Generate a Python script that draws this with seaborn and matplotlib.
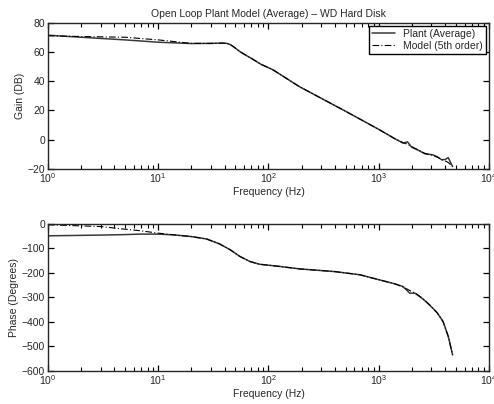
import numpy as np
import pandas as pd
import matplotlib
matplotlib.use("Agg")
import matplotlib.pyplot as plt
from matplotlib.ticker import NullFormatter
import seaborn as sns

# values (frequency in Hz)
gain_freq = [1, 2, 5, 10, 20, 30, 38, 42, 45, 48, 55, 63, 72, 85, 110, 190, 300, 500,
             676, 1000, 1400, 1660, 1820, 1990, 2300, 2620, 3100, 3400, 3720, 4000,
             4260, 4670]
plant_gain = [71.4, 70.0, 68.2, 66.6, 65.7, 65.8, 66.0, 65.8, 65.0, 63.6, 60.2, 57.5,
              55.0, 51.6, 47.7, 36.3, 28.3, 19.4, 14.0, 7.0, 0.6, -2.4, -1.5, -5.2,
              -7.4, -9.7, -10.4, -11.8, -13.8, -13.6, -12.3, -18.4]
model_gain = [71.0, 70.5, 70.0, 68.2, 65.8, 65.8, 66.0, 65.8, 65.0, 63.6, 60.2, 57.5,
              55.0, 51.6, 47.7, 36.3, 28.3, 19.4, 14.0, 7.0, 0.6, -2.0, -3.2, -4.8,
              -7.2, -9.4, -10.8, -12.0, -13.6, -14.6, -15.6, -18.4]

phase_freq = [1, 3, 5, 6.8, 10, 13.7, 20, 27.5, 36, 45, 55, 68, 83, 127, 192, 400, 676,
              1020, 1400, 1660, 1910, 2130, 2500, 2890, 3400, 3830, 4270, 4670]
plant_phase = [-49, -46, -44, -42, -42, -45, -52, -62, -82, -106, -133, -154, -165, -174,
               -184, -195, -208, -229, -245, -256, -283, -283, -306, -331, -364, -399,
               -460, -535]
model_phase = [-4, -11, -22, -28, -38, -45, -52, -62, -82, -106, -133, -154, -165, -174,
               -184, -195, -208, -229, -245, -258, -272, -282, -304, -331, -364, -399,
               -460, -535]

gain_df = pd.concat([
    pd.DataFrame({"freq": gain_freq, "value": plant_gain, "curve": "Plant (Average)"}),
    pd.DataFrame({"freq": gain_freq, "value": model_gain, "curve": "Model (5th order)"}),
])
phase_df = pd.concat([
    pd.DataFrame({"freq": phase_freq, "value": plant_phase, "curve": "Plant (Average)"}),
    pd.DataFrame({"freq": phase_freq, "value": model_phase, "curve": "Model (5th order)"}),
])

sns.set_style("ticks")
plt.rcParams["font.family"] = ["Liberation Sans", "DejaVu Sans"]
plt.rcParams["font.size"] = 7
plt.rcParams["axes.unicode_minus"] = True

fig = plt.figure(figsize=(4.94, 4.04), dpi=100)
ax1 = fig.add_axes([0.097, 0.582, 0.893, 0.362])
ax2 = fig.add_axes([0.097, 0.082, 0.893, 0.364])

palette = {"Plant (Average)": "#3a3a3a", "Model (5th order)": "black"}
styles = {"Plant (Average)": "", "Model (5th order)": (6, 2, 1, 2)}
sizes = {"Plant (Average)": 1.1, "Model (5th order)": 0.8}

decades = 10.0 ** np.arange(0, 5)
minor_pos = (decades[:-1, None] * np.arange(2, 10)[None, :]).ravel()

for ax, df in [(ax1, gain_df), (ax2, phase_df)]:
    sns.lineplot(data=df, x="freq", y="value", hue="curve", style="curve",
                 size="curve", palette=palette, dashes=styles, sizes=sizes,
                 sort=False, ax=ax, legend=(ax is ax1))
    ax.set_xscale("log")
    ax.set_xticks(decades)
    ax.set_xticks(minor_pos, minor=True)
    ax.xaxis.set_minor_formatter(NullFormatter())
    ax.set_xlim(1, 1e4)
    ax.set_xlabel("Frequency (Hz)", fontsize=7.5, labelpad=1)
    ax.tick_params(which="both", direction="in", top=True, right=True,
                   labelsize=7.5, pad=2, color="black")
    ax.tick_params(which="major", length=4.5, width=0.9)
    ax.tick_params(which="minor", length=2.8, width=0.8)
    for sp in ax.spines.values():
        sp.set_linewidth(1.0)
        sp.set_visible(True)

ax1.set_ylim(-20, 80)
ax1.set_yticks([-20, 0, 20, 40, 60, 80])
ax1.set_ylabel("Gain (DB)", fontsize=7.5, labelpad=2)
ax1.set_title("Open Loop Plant Model (Average) \u2013 WD Hard Disk", fontsize=7.5, pad=4)

ax2.set_ylim(-600, 0)
ax2.set_yticks([-600, -500, -400, -300, -200, -100, 0])
ax2.set_ylabel("Phase (Degrees)", fontsize=7.5, labelpad=2)

leg = ax1.legend(loc="upper right", fontsize=7.5, frameon=True, fancybox=False,
                 borderaxespad=0.3, handlelength=2.2, borderpad=0.3, labelspacing=0.2)
leg.get_frame().set_edgecolor("black")
leg.get_frame().set_linewidth(1.0)
leg.get_frame().set_alpha(1)

fig.savefig("out.png", dpi=100)
